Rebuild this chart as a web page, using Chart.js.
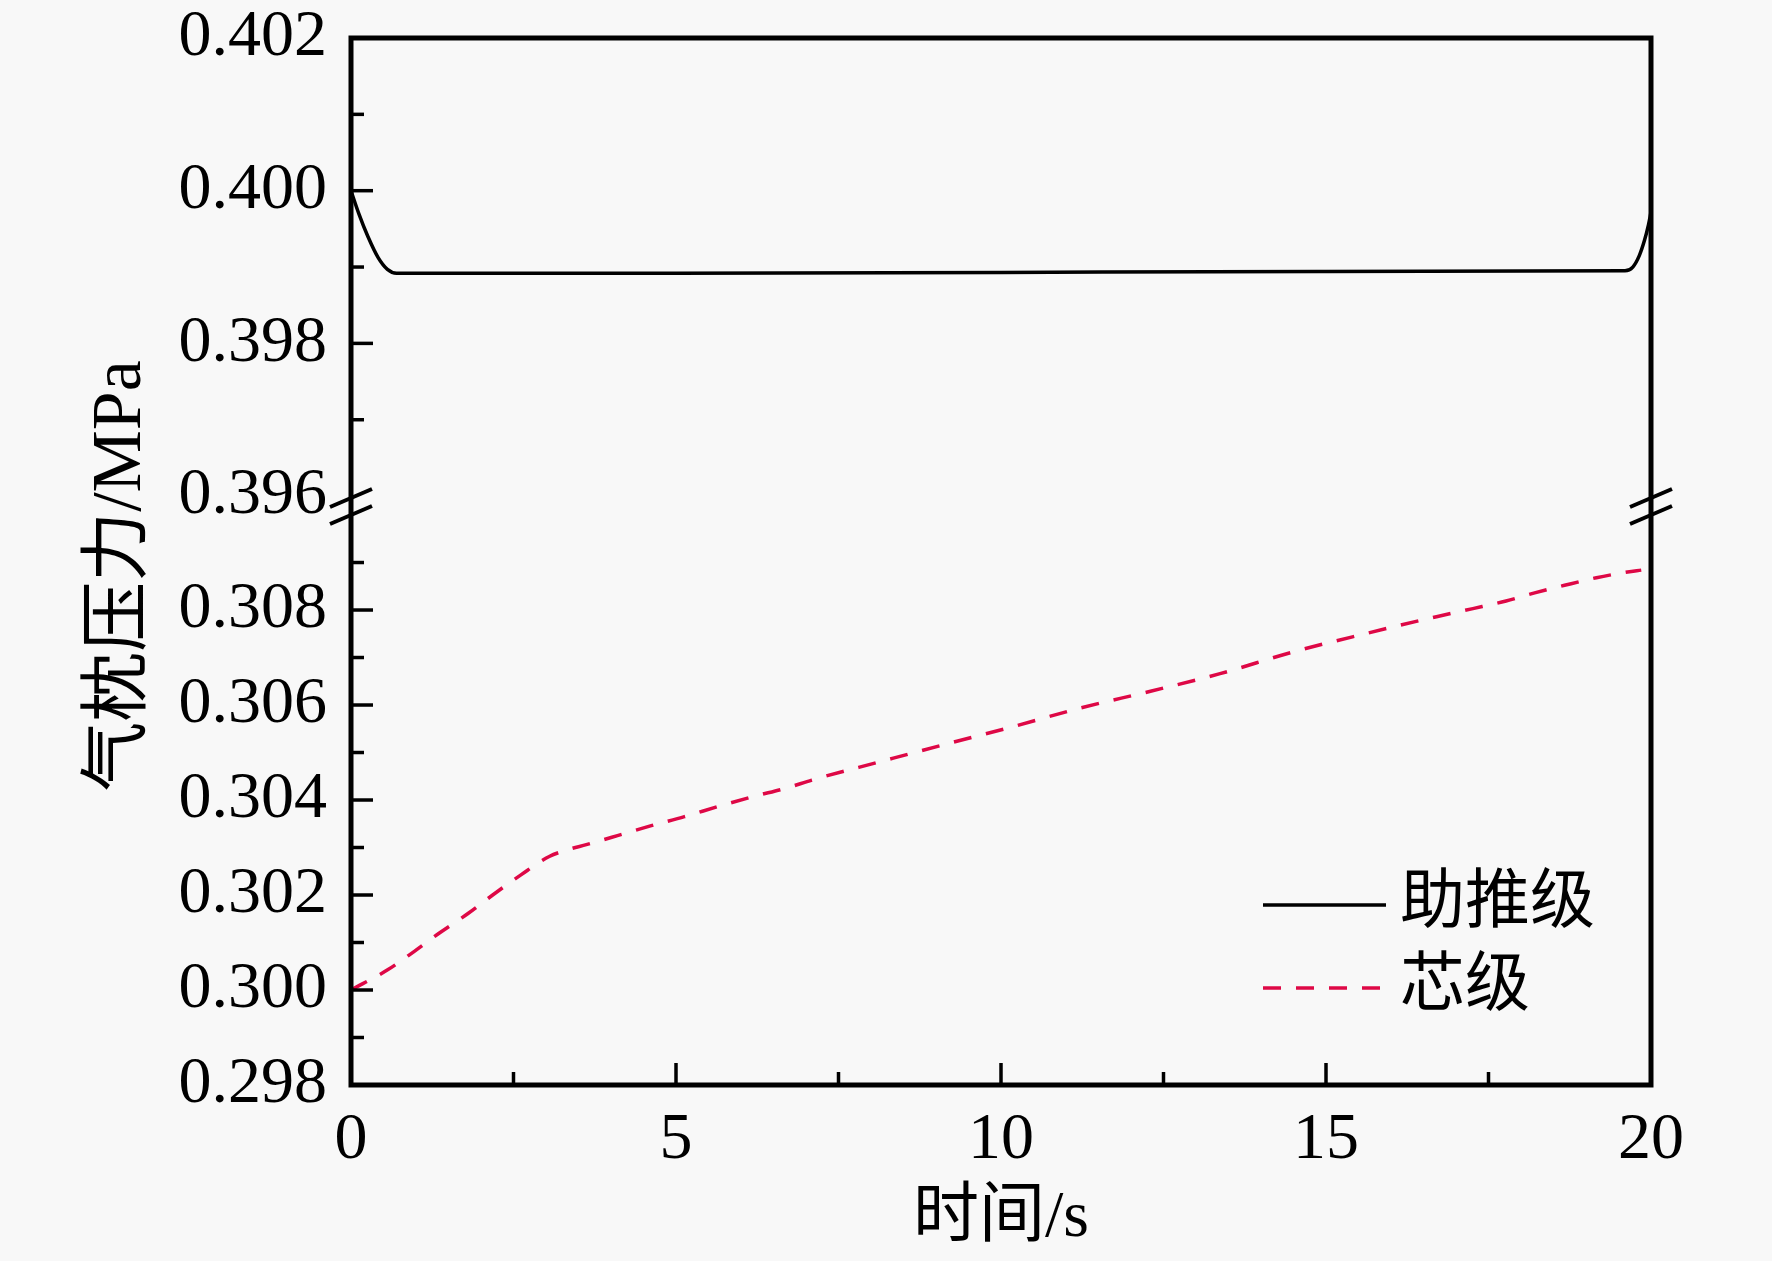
<!DOCTYPE html>
<html>
<head>
<meta charset="utf-8">
<title>气枕压力</title>
<script src="https://cdn.jsdelivr.net/npm/chart.js@4.4.0/dist/chart.umd.min.js"></script>
<style>
  html, body { margin: 0; padding: 0; background: #f8f8f8; }
  #wrap { width: 1772px; height: 1261px; }
</style>
</head>
<body>
<div id="wrap"><canvas id="myChart"></canvas></div>
<script>
// data
var boosterTime = [0, 0.12, 0.26, 0.42, 0.56, 0.7, 1.0, 5, 10, 15, 19.6, 19.72, 19.82, 19.9, 19.96, 20];
var boosterPressure = [0.4000, 0.39970, 0.39940, 0.39912, 0.39897, 0.39892, 0.39892, 0.39892, 0.39893, 0.39894,
                       0.39895, 0.39900, 0.39915, 0.39935, 0.39955, 0.39972];

var coreTime = [0, 0.57, 0.98, 1.36, 1.80, 2.18, 2.62, 3.05, 3.35, 3.62, 4.10, 4.62, 5.13, 5.64, 6.18, 6.72,
                7.09, 8.15, 9.19, 10.2, 11.23, 12.3, 13.37, 14.5, 15.63, 16.7, 17.26, 17.77, 18.21, 18.67, 19.16, 19.64, 19.85];
var corePressure = [0.30000, 0.30043, 0.30082, 0.30120, 0.30161, 0.30200, 0.30243, 0.30281, 0.30296, 0.30306,
                    0.30325, 0.30346, 0.30365, 0.30386, 0.30407, 0.30426, 0.30442, 0.30481, 0.30519, 0.30555,
                    0.30594, 0.30629, 0.30666, 0.30712, 0.30751, 0.30786, 0.30803, 0.30819, 0.30836, 0.30852,
                    0.30868, 0.30880, 0.30884];

var seriesNames = ['助推级', '芯级'];

// tick positions (minor ones get an empty label)
var xTicks = [0, 2.5, 5, 7.5, 10, 12.5, 15, 17.5, 20];
var yTopTicks = [0.396, 0.397, 0.398, 0.399, 0.400, 0.401, 0.402];
var yBottomTicks = [0.298, 0.299, 0.300, 0.301, 0.302, 0.303, 0.304, 0.305, 0.306, 0.307, 0.308, 0.309];

var FONT = '"Liberation Serif", "Noto Sans CJK SC", serif';
Chart.defaults.font.family = FONT;
Chart.defaults.color = '#000';

function toPoints(xs, ys) {
    return xs.map(function (x, i) { return {x: x, y: ys[i]}; });
}

function setTicks(values) {
    return function (scale) {
        scale.ticks = values.map(function (v) { return {value: v}; });
    };
}

// frame, inward ticks, axis break marks, y title and legend
var axisFrame = {
    id: 'axisFrame',
    afterDatasetsDraw: function (chart) {
        var ctx = chart.ctx, a = chart.chartArea, s = chart.scales;
        var brk = s.yTop.bottom;
        ctx.save();
        ctx.strokeStyle = '#000';
        ctx.lineCap = 'butt';

        function seg(x1, y1, x2, y2) {
            ctx.beginPath();
            ctx.moveTo(x1, y1);
            ctx.lineTo(x2, y2);
            ctx.stroke();
        }

        ctx.lineWidth = 3.5;
        [s.yTop, s.y].forEach(function (sc) {
            sc.ticks.forEach(function (t) {
                var py = sc.getPixelForValue(t.value);
                if (Math.abs(py - brk) < 15) return;
                seg(a.left, py, a.left + (t.label !== '' ? 22 : 13), py);
            });
        });
        s.x.ticks.forEach(function (t) {
            var px = s.x.getPixelForValue(t.value);
            if (px <= a.left + 2 || px >= a.right - 2) return;
            seg(px, a.bottom, px, a.bottom - (t.label !== '' ? 22 : 13));
        });

        ctx.lineWidth = 5;
        ctx.strokeRect(a.left, a.top, a.width, a.height);

        // break marks on both vertical axes
        ctx.lineWidth = 4;
        [a.left, a.right].forEach(function (x) {
            [-8, 9].forEach(function (dy) {
                var y = brk + dy;
                seg(x - 21, y + 9, x + 21, y - 9);
            });
        });

        // y axis title
        ctx.save();
        ctx.translate(122, 576);
        ctx.rotate(-Math.PI / 2);
        ctx.fillStyle = '#000';
        ctx.font = '70px ' + FONT;
        ctx.textAlign = 'center';
        ctx.textBaseline = 'middle';
        ctx.fillText('气枕压力/MPa', 0, 0);
        ctx.restore();

        // legend
        var rows = [905, 988];
        chart.data.datasets.forEach(function (ds, i) {
            var y = rows[i];
            ctx.strokeStyle = ds.borderColor;
            ctx.lineWidth = 3.5;
            ctx.setLineDash(ds.borderDash || []);
            seg(1263, y, 1386, y);
            ctx.setLineDash([]);
            ctx.fillStyle = '#000';
            ctx.font = '65px ' + FONT;
            ctx.textAlign = 'left';
            ctx.textBaseline = 'middle';
            ctx.fillText(ds.label, 1400, y);
        });
        ctx.restore();
    }
};

var tickFont = {family: FONT, size: 66};

var ctx = document.getElementById('myChart').getContext('2d');
var chart = new Chart(ctx, {
    type: 'line',
    data: {
        datasets: [{
            label: seriesNames[0],
            data: toPoints(boosterTime, boosterPressure),
            yAxisID: 'yTop',
            borderColor: '#000000',
            borderWidth: 3.5,
            pointRadius: 0,
            cubicInterpolationMode: 'monotone'
        },
        {
            label: seriesNames[1],
            data: toPoints(coreTime, corePressure),
            yAxisID: 'y',
            borderColor: 'rgb(222, 8, 70)',
            borderWidth: 3.5,
            borderDash: [18, 15],
            pointRadius: 0,
            cubicInterpolationMode: 'monotone'
        }]
    },
    options: {
        responsive: true,
        maintainAspectRatio: false,
        animation: false,
        layout: {padding: {top: 38, right: 121, bottom: 0, left: 0}},
        plugins: {legend: {display: false}, tooltip: {enabled: false}},
        scales: {
            x: {
                type: 'linear',
                min: 0, max: 20,
                grid: {display: false, drawTicks: false},
                border: {display: false},
                afterBuildTicks: setTicks(xTicks),
                afterFit: function (sc) { sc.height = 176; sc.paddingLeft = 0; sc.paddingRight = 0; },
                ticks: {
                    autoSkip: false, maxRotation: 0, padding: 16, font: tickFont,
                    callback: function (v) { return v % 5 === 0 ? String(v) : ''; }
                },
                title: {display: true, text: '时间/s', font: {family: FONT, size: 66}, padding: {top: 0, bottom: 3}}
            },
            y: {
                type: 'linear',
                position: 'left',
                stack: 'pressure',
                stackWeight: 579,
                weight: 0,
                min: 0.298, max: 0.31019,
                grid: {display: false, drawTicks: false},
                border: {display: false},
                afterBuildTicks: setTicks(yBottomTicks),
                afterFit: function (sc) { sc.width = 351; sc.paddingTop = 0; sc.paddingBottom = 0; },
                ticks: {
                    autoSkip: false, padding: 24, font: tickFont,
                    callback: function (v) { return Math.round(v * 1000) % 2 === 0 ? v.toFixed(3) : ''; }
                }
            },
            yTop: {
                type: 'linear',
                position: 'left',
                stack: 'pressure',
                stackWeight: 468,
                weight: 1,
                min: 0.39587, max: 0.402,
                grid: {display: false, drawTicks: false},
                border: {display: false},
                afterBuildTicks: setTicks(yTopTicks),
                afterFit: function (sc) { sc.width = 351; sc.paddingTop = 0; sc.paddingBottom = 0; },
                ticks: {
                    autoSkip: false, padding: 24, font: tickFont,
                    callback: function (v) { return Math.round(v * 1000) % 2 === 0 ? v.toFixed(3) : ''; }
                }
            }
        }
    },
    plugins: [axisFrame]
});
</script>
</body>
</html>
